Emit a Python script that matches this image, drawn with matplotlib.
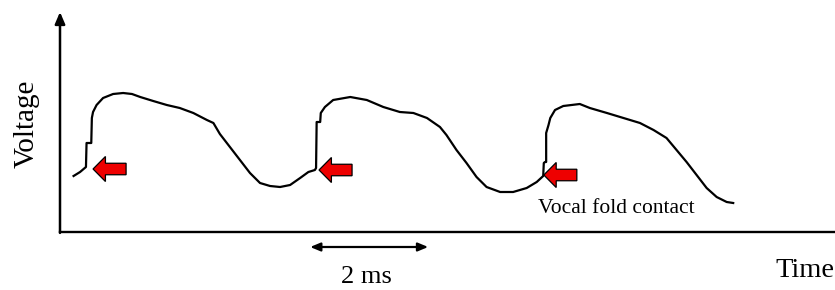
import matplotlib
matplotlib.use("Agg")
import matplotlib.pyplot as plt
from matplotlib.patches import FancyArrow

# --- data (time in ms, voltage in arbitrary units) ---
time_ms = [0.23, 0.34, 0.44, 0.45, 0.50, 0.53, 0.54, 0.56, 0.62, 0.73, 0.90, 1.07,
           1.22, 1.36, 1.58, 1.81, 2.03, 2.26, 2.49, 2.60, 2.71, 2.88, 3.05, 3.22,
           3.39, 3.56, 3.73, 3.90, 4.07, 4.21, 4.32, 4.34, 4.35, 4.41, 4.42, 4.49,
           4.63, 4.92, 5.20, 5.48, 5.76, 5.99, 6.22, 6.44, 6.55, 6.72, 6.89, 7.06,
           7.23, 7.46, 7.68, 7.91, 8.08, 8.19, 8.20, 8.22, 8.24, 8.24, 8.28, 8.31,
           8.39, 8.53, 8.81, 8.98, 9.27, 9.55, 9.83, 10.06, 10.28, 10.45, 10.62,
           10.79, 10.96, 11.13, 11.30, 11.41]
voltage = [5.6, 6.0, 6.5, 8.9, 8.9, 8.9, 11.4, 12.0, 12.7, 13.4, 13.8, 13.9,
           13.8, 13.5, 13.1, 12.7, 12.4, 11.9, 11.2, 10.9, 9.8, 8.5, 7.2, 5.9,
           4.9, 4.6, 4.5, 4.7, 5.4, 6.0, 6.2, 6.4, 11.0, 11.0, 11.9, 12.5,
           13.2, 13.5, 13.2, 12.5, 12.0, 11.9, 11.4, 10.5, 9.7, 8.2, 6.9, 5.5,
           4.5, 4.0, 4.0, 4.4, 5.0, 5.6, 6.9, 7.0, 7.0, 9.9, 10.7, 11.4,
           12.2, 12.6, 12.8, 12.4, 11.9, 11.4, 10.9, 10.2, 9.4, 8.2, 7.0,
           5.7, 4.4, 3.5, 3.0, 2.9]
contact_t = [0.56, 4.39, 8.20]
contact_v = [6.3, 6.2, 5.7]
scale_start, scale_len = 4.24, 2.0

W, H = 835, 290
fig = plt.figure(figsize=(W / 100, H / 100), dpi=100)
ax = fig.add_axes([60 / W, (H - 232) / H, 775 / W, 220 / H])
ax.set_xlim(0, 775 / 59)
ax.set_ylim(0, 22)
for s in ["top", "right", "left"]:
    ax.spines[s].set_visible(False)
ax.spines["bottom"].set_linewidth(1.7)
ax.set_xticks([])
ax.set_yticks([])
ax.patch.set_alpha(0)

# y axis with arrow head
ax.annotate("", xy=(0, 1.0), xytext=(0, -0.004), xycoords="axes fraction",
            arrowprops=dict(arrowstyle="-|>,head_length=0.7,head_width=0.3",
                            lw=1.8, color="black", shrinkA=0, shrinkB=0))

ax.plot(time_ms, voltage, color="black", lw=1.6, solid_joinstyle="round")

# red contact arrows
for t, v in zip(contact_t, contact_v):
    ax.add_patch(FancyArrow(t + 0.56, v, -0.56, 0, width=1.15, head_width=2.5,
                            head_length=0.21, length_includes_head=True,
                            facecolor="#ee0000", edgecolor="black", lw=0.9))

# 2 ms scale bar
ax.annotate("", xy=(scale_start, -1.5), xytext=(scale_start + scale_len, -1.5),
            xycoords="data", annotation_clip=False,
            arrowprops=dict(arrowstyle="<|-|>,head_length=0.6,head_width=0.25",
                            lw=1.6, color="black", shrinkA=0, shrinkB=0))

serif = ["Liberation Serif", "DejaVu Serif"]
ax.text(5.19, -5.1, "2 ms", ha="center", va="baseline", fontsize=19, family=serif,
        clip_on=False)
ax.text(13.12, -4.5, "Time", ha="right", va="baseline", fontsize=20.5, family=serif,
        clip_on=False)
ax.text(-0.57, 10.8, "Voltage", ha="center", va="center", rotation=90, fontsize=21,
        family=serif, clip_on=False)
ax.text(8.10, 1.9, "Vocal fold contact", ha="left", va="baseline", fontsize=15.5,
        family=serif, clip_on=False)

fig.savefig("out.png", dpi=100)
